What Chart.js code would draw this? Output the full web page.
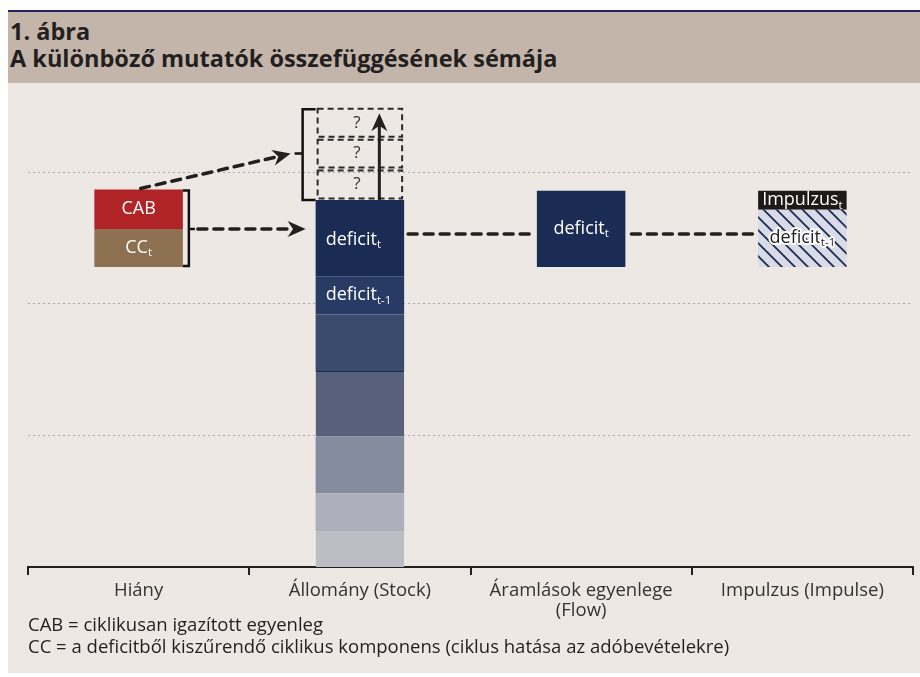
<!DOCTYPE html>
<html>
<head>
<meta charset="utf-8">
<script src="https://cdn.jsdelivr.net/npm/chart.js@4"></script>
<style>
  body { margin: 0; background: #fff; width: 920px; height: 677px; position: relative; overflow: hidden; font-family: "Open Sans", sans-serif; }
  #head { position: absolute; left: 8px; top: 10px; width: 910px; height: 65px; padding: 6px 0 0 2px; border-top: 2px solid #1f2060; background: #c3b5a9; color: #231f20; font-weight: bold; font-size: 23.5px; line-height: 27px; }
  #panel { position: absolute; left: 8px; top: 83px; width: 912px; height: 590px; background: #ede8e4; }
  #wrap { position: absolute; left: 0; top: 83px; width: 920px; height: 540px; }
  #notes { position: absolute; left: 28px; top: 613px; color: #231f20; font-size: 18.5px; line-height: 22px; }
</style>
</head>
<body>
<div id="head">1. ábra<br>A különböző mutatók összefüggésének sémája</div>
<div id="panel"></div>
<div id="wrap"><canvas id="chart" width="920" height="540"></canvas></div>
<div id="notes">CAB = ciklikusan igazított egyenleg<br>CC = a deficitből kiszűrendő ciklikus komponens (ciklus hatása az adóbevételekre)</div>
<script>
// categories on the x axis
const categories = ['Hiány', 'Állomány (Stock)', ['Áramlások egyenlege', '(Flow)'], 'Impulzus (Impulse)'];

// stock bar pieces, bottom to top (last one = deficit t)
const stockSegments = [0.28, 0.28, 0.43, 0.50, 0.43, 0.29, 0.58];
// the three "?" pieces stacked above the stock
const unknownSegments = [0.235, 0.235, 0.235];

// Hiány: cyclical component + cyclically adjusted balance
const hianyBase = 2.28;
const ccValue = 0.29;
const cabValue = 0.30;

// flow and impulse
const flowBase = 2.28;
const flowValue = 0.58;
const impulseBase = 2.28;
const impulseDeficitPrev = 0.435;
const impulseValue = 0.145;

const gridLevels = [1, 2, 3];
const yMax = 3.55;

const stockColors = ['#bcbdc3', '#adb0ba', '#858c9f', '#57617c', '#3b4b6d', '#283b64', '#1a2b54'];
const stockLines = ['#7d8396', null, null, '#1d2b50', null, null, null];
const ink = '#231f20';
const font = '"Open Sans", sans-serif';

// hatch pattern for the impulse box
const tile = document.createElement('canvas');
tile.width = 13; tile.height = 13;
const tc = tile.getContext('2d');
tc.fillStyle = '#d9dce6';
tc.fillRect(0, 0, 13, 13);
tc.strokeStyle = '#1a2b54';
tc.lineWidth = 1.8;
tc.beginPath();
tc.moveTo(-2, -2); tc.lineTo(15, 15);
tc.moveTo(-2, 11); tc.lineTo(2, 15);
tc.moveTo(11, -2); tc.lineTo(15, 2);
tc.stroke();
const hatch = tc.createPattern(tile, 'repeat');

function at(idx, range) {
  const d = [null, null, null, null];
  d[idx] = range;
  return d;
}

const datasets = [];
let level = 0;
stockSegments.forEach((v, i) => {
  datasets.push({
    label: 'stock' + i,
    data: at(1, [level, level + v]),
    backgroundColor: stockColors[i],
    borderColor: stockLines[i] || stockColors[i],
    borderWidth: stockLines[i] ? { top: 1, bottom: 0, left: 0, right: 0 } : 0,
    borderSkipped: false
  });
  level += v;
});
unknownSegments.forEach((v, i) => {
  datasets.push({ label: 'unknown' + i, data: at(1, [level, level + v]), backgroundColor: 'rgba(0,0,0,0)' });
  level += v;
});
datasets.push({ label: 'cc', data: at(0, [hianyBase, hianyBase + ccValue]), backgroundColor: '#8c704f' });
datasets.push({ label: 'cab', data: at(0, [hianyBase + ccValue, hianyBase + ccValue + cabValue]), backgroundColor: '#b02326' });
datasets.push({ label: 'flow', data: at(2, [flowBase, flowBase + flowValue]), backgroundColor: '#1a2b54' });
datasets.push({ label: 'impDef', data: at(3, [impulseBase, impulseBase + impulseDeficitPrev]), backgroundColor: hatch });
datasets.push({ label: 'imp', data: at(3, [impulseBase + impulseDeficitPrev, impulseBase + impulseDeficitPrev + impulseValue]), backgroundColor: '#1e1a1a' });

function box(chart, label) {
  const i = chart.data.datasets.findIndex(d => d.label === label);
  const data = chart.data.datasets[i].data;
  const el = chart.getDatasetMeta(i).data[data.findIndex(v => v != null)];
  return { left: el.x - el.width / 2, right: el.x + el.width / 2, top: Math.min(el.y, el.base), bottom: Math.max(el.y, el.base), cx: el.x, w: el.width };
}

function subText(ctx, main, sub, x, y, align, color, halo) {
  ctx.font = '18px ' + font;
  const w1 = ctx.measureText(main).width;
  ctx.font = '11.5px ' + font;
  const w2 = ctx.measureText(sub).width;
  const sx = align === 'center' ? x - (w1 + w2) / 2 : x;
  ctx.textAlign = 'left';
  ctx.textBaseline = 'middle';
  const parts = [[main, '18px ', sx, y], [sub, '11.5px ', sx + w1, y + 5]];
  parts.forEach(p => {
    if (!p[0]) return;
    ctx.font = p[1] + font;
    if (halo) {
      ctx.strokeStyle = '#fff';
      ctx.lineWidth = 4;
      ctx.lineJoin = 'round';
      ctx.strokeText(p[0], p[2], p[3]);
    }
    ctx.fillStyle = color;
    ctx.fillText(p[0], p[2], p[3]);
  });
}

function arrowHead(ctx, x1, y1, x2, y2, len, half) {
  const a = Math.atan2(y2 - y1, x2 - x1);
  ctx.setLineDash([]);
  ctx.beginPath();
  ctx.moveTo(x2, y2);
  ctx.lineTo(x2 - len * Math.cos(a) + half * Math.sin(a), y2 - len * Math.sin(a) - half * Math.cos(a));
  ctx.lineTo(x2 - len * 0.7 * Math.cos(a), y2 - len * 0.7 * Math.sin(a));
  ctx.lineTo(x2 - len * Math.cos(a) - half * Math.sin(a), y2 - len * Math.sin(a) + half * Math.cos(a));
  ctx.closePath();
  ctx.fill();
}

function dashedArrow(ctx, x1, y1, x2, y2, head) {
  ctx.save();
  ctx.strokeStyle = ink;
  ctx.fillStyle = ink;
  ctx.lineWidth = 3.5;
  ctx.lineCap = 'round';
  ctx.setLineDash([9, 7]);
  const a = Math.atan2(y2 - y1, x2 - x1);
  const cut = head ? 12 : 0;
  ctx.beginPath();
  ctx.moveTo(x1, y1);
  ctx.lineTo(x2 - cut * Math.cos(a), y2 - cut * Math.sin(a));
  ctx.stroke();
  if (head) arrowHead(ctx, x1, y1, x2, y2, 18, 8);
  ctx.restore();
}

const schema = {
  id: 'schema',
  afterDatasetsDraw(chart) {
    const ctx = chart.ctx;
    const stockTop = box(chart, 'stock' + (stockSegments.length - 1));
    const stockPrev = box(chart, 'stock' + (stockSegments.length - 2));
    const unknowns = unknownSegments.map((v, i) => box(chart, 'unknown' + i));
    const uTop = unknowns[unknowns.length - 1].top;
    const uBottom = unknowns[0].bottom;
    const cc = box(chart, 'cc');
    const cab = box(chart, 'cab');
    const flow = box(chart, 'flow');
    const impDef = box(chart, 'impDef');
    const imp = box(chart, 'imp');

    ctx.save();
    // dashed "?" boxes
    ctx.strokeStyle = '#2b2b2b';
    ctx.lineWidth = 2;
    ctx.setLineDash([6, 4]);
    unknowns.forEach(b => {
      ctx.strokeRect(b.left + 2, b.top + 1.5, b.w - 4, b.bottom - b.top - 3);
    });
    ctx.setLineDash([]);
    ctx.fillStyle = '#333';
    ctx.font = '17px ' + font;
    ctx.textAlign = 'center';
    ctx.textBaseline = 'middle';
    unknowns.forEach(b => ctx.fillText('?', b.cx - 3, (b.top + b.bottom) / 2));

    // solid arrow up through the "?" boxes
    const ax = stockTop.left + stockTop.w * 0.72;
    ctx.strokeStyle = ink;
    ctx.fillStyle = ink;
    ctx.lineWidth = 3;
    ctx.beginPath();
    ctx.moveTo(ax, stockTop.top);
    ctx.lineTo(ax, uTop + 18);
    ctx.stroke();
    arrowHead(ctx, ax, stockTop.top, ax, uTop + 6, 18, 8);

    // bracket left of the "?" boxes
    const bx = stockTop.left - 13;
    const bMid = (uTop + uBottom) / 2;
    ctx.strokeStyle = '#111';
    ctx.lineWidth = 2.5;
    ctx.beginPath();
    ctx.moveTo(stockTop.left, uTop + 2);
    ctx.lineTo(bx, uTop + 2);
    ctx.lineTo(bx, uBottom);
    ctx.lineTo(stockTop.left, uBottom);
    ctx.moveTo(bx, bMid);
    ctx.lineTo(bx - 8, bMid);
    ctx.stroke();

    // bracket right of the Hiány bar
    const hx = cab.right + 6;
    ctx.beginPath();
    ctx.moveTo(cab.right, cab.top + 1);
    ctx.lineTo(hx, cab.top + 1);
    ctx.lineTo(hx, cc.bottom - 1);
    ctx.lineTo(cab.right, cc.bottom - 1);
    ctx.moveTo(hx, cc.top);
    ctx.lineTo(hx + 6, cc.top);
    ctx.stroke();
    ctx.restore();

    // dashed connectors
    dashedArrow(ctx, hx + 9, cc.top, stockTop.left - 10, cc.top, true);
    dashedArrow(ctx, cab.cx + 2, cab.top - 1, bx - 12, bMid, true);
    const ly = (flow.top + flow.bottom) / 2 + 5;
    dashedArrow(ctx, stockTop.right + 4, ly, flow.left - 2, ly, false);
    dashedArrow(ctx, flow.right + 6, ly, imp.left - 2, ly, false);

    // labels
    subText(ctx, 'CAB', '', cab.cx, (cab.top + cab.bottom) / 2, 'center', '#fff');
    subText(ctx, 'CC', 't', cc.cx, (cc.top + cc.bottom) / 2, 'center', '#fff');
    subText(ctx, 'deficit', 't', stockTop.left + 10, (stockTop.top + stockTop.bottom) / 2 + 2, 'left', '#fff');
    subText(ctx, 'deficit', 't-1', stockPrev.left + 10, (stockPrev.top + stockPrev.bottom) / 2, 'left', '#fff');
    subText(ctx, 'deficit', 't', flow.cx, (flow.top + flow.bottom) / 2, 'center', '#fff');
    subText(ctx, 'Impulzus', 't', imp.cx, (imp.top + imp.bottom) / 2, 'center', '#fff');
    subText(ctx, 'deficit', 't-1', impDef.cx, impDef.top + 28, 'center', ink, true);
  }
};

new Chart(document.getElementById('chart'), {
  type: 'bar',
  data: { labels: categories, datasets: datasets },
  options: {
    responsive: false,
    animation: false,
    devicePixelRatio: 1,
    categoryPercentage: 1,
    barPercentage: 0.4,
    layout: { padding: { left: 28, right: 7, top: 17, bottom: 0 } },
    plugins: { legend: { display: false }, tooltip: { enabled: false }, title: { display: false } },
    scales: {
      x: {
        stacked: true,
        offset: true,
        grid: { drawOnChartArea: false, drawTicks: true, tickLength: 8, color: ink, lineWidth: 2, offset: true },
        border: { display: true, color: ink, width: 2 },
        ticks: { color: '#333', font: { family: 'Open Sans', size: 18.5, lineHeight: 1.12 }, padding: 5, maxRotation: 0, autoSkip: false },
        afterFit: s => { s.height = 56; }
      },
      y: {
        stacked: false,
        min: 0,
        max: yMax,
        afterBuildTicks: s => { s.ticks = gridLevels.map(v => ({ value: v })); },
        ticks: { display: false },
        grid: { color: '#a4aab3', lineWidth: 1, drawTicks: false, borderDash: [2, 3] },
        border: { display: false, dash: [2, 3] }
      }
    }
  },
  plugins: [schema]
});
</script>
</body>
</html>
